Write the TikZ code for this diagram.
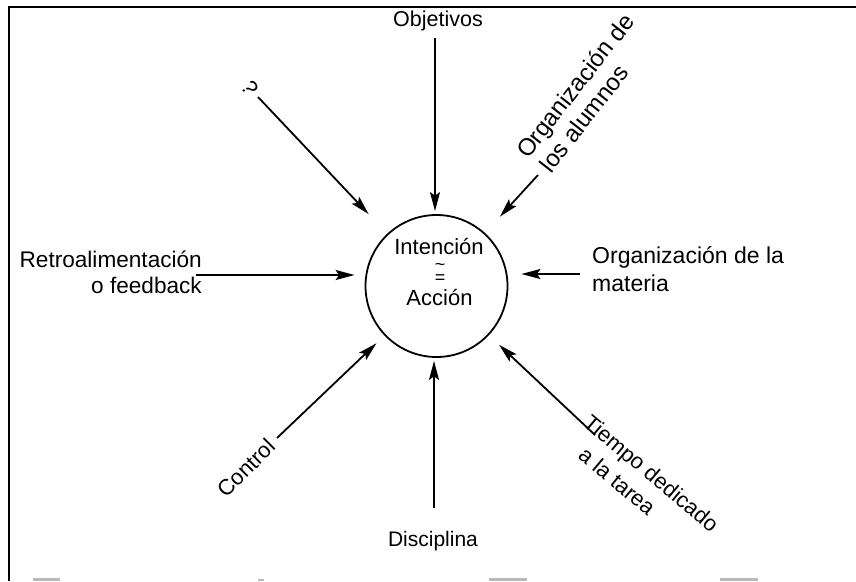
\documentclass[tikz,border=0pt]{standalone}
\usepackage{fontspec}
\setmainfont{Liberation Sans}
\usetikzlibrary{arrows.meta,calc}
\begin{document}
\begin{tikzpicture}[x=1pt,y=-1pt,
  lbl/.style={font=\fontsize{22}{26}\selectfont, inner sep=0pt},
  small/.style={font=\fontsize{18}{18}\selectfont, inner sep=0pt},
  inarrow/.style={line width=1.8pt, -{Stealth[length=19pt,width=10pt,inset=3.5pt]}},
  frameline/.style={line width=2pt},
  scanmark/.style={fill=gray!55, draw=none}]
\useasboundingbox (0,0) rectangle (856,581);

% open frame: left and top edges
\draw[frameline] (9,581) -- (9,7) -- (856,7);

% central circle with its text
\node[draw, circle, line width=1.8pt, minimum size=142pt, inner sep=0pt] (core) at (436.5,286) {};
\node[lbl, anchor=base] (c1) at (439,254) {Intención};
\node[small] (c2) at (440,267) {\textasciitilde};
\node[small] (c3) at (440,279) {=};
\node[lbl, anchor=base] (c4) at (439.5,305) {Acción};

% labels
\node[lbl, font=\fontsize{21.5}{26}\selectfont, anchor=base] (obj) at (438,26) {Objetivos};
\node[lbl, rotate=-60] (q) at (250,88) {?};
\begin{scope}[shift={(528,160)}, rotate=52]
  \node[lbl, font=\fontsize{24}{28}\selectfont, anchor=base west, rotate=52] (oa1) at (0,0) {Organización de};
  \node[lbl, font=\fontsize{24}{28}\selectfont, anchor=base west, rotate=52] (oa2) at (3,27) {los alumnos};
\end{scope}
\node[lbl, font=\fontsize{22.6}{26}\selectfont, anchor=base east] (fb1) at (202,267) {Retroalimentación};
\node[lbl, font=\fontsize{22.6}{26}\selectfont, anchor=base east] (fb2) at (202,293) {o feedback};
\node[lbl, font=\fontsize{23}{26}\selectfont, anchor=base west] (om1) at (592,263) {Organización de la};
\node[lbl, font=\fontsize{23}{26}\selectfont, anchor=base west] (om2) at (592,291) {materia};
\node[lbl, rotate=45] (ctl) at (246,468) {Control};
\node[lbl, font=\fontsize{21}{26}\selectfont, anchor=base] (dis) at (433,546) {Disciplina};
\begin{scope}[shift={(582,425)}, rotate=-40]
  \node[lbl, anchor=base west, rotate=-40] (tt1) at (0,0) {Tiempo dedicado};
  \node[lbl, anchor=base west, rotate=-40] (tt2) at (17,28) {a la tarea};
\end{scope}

% arrow start points
\coordinate (s-obj) at (435,38);
\coordinate (s-q) at (258,97);
\coordinate (s-oa) at (538,175);
\coordinate (s-fb) at (196,275);
\coordinate (s-om) at (580,274);
\coordinate (s-ctl) at (277,438);
\coordinate (s-dis) at (434,508);
\coordinate (s-tt) at (595,435);

% arrows into the circle
\draw[inarrow, shorten >=3pt]  (s-obj) -- (s-obj |- core.north);
\draw[inarrow, shorten >=27pt] (s-q) -- (core);
\draw[inarrow, shorten >=22pt] (s-oa) -- (core);
\draw[inarrow, shorten >=10pt] (s-fb) -- (s-fb -| core.west);
\draw[inarrow, shorten >=13pt] (s-om) -- (s-om -| core.east);
\draw[inarrow, shorten >=11pt] (s-ctl) -- (core);
\draw[inarrow, shorten >=3pt]  (s-dis) -- (s-dis |- core.south);
\draw[inarrow, shorten >=14pt] (s-tt) -- (core);

% faint marks along the lower edge
\fill[scanmark] (33,578) rectangle (60,581);
\fill[scanmark] (258,579) rectangle (264,581);
\fill[scanmark] (489,578) rectangle (527,581);
\fill[scanmark] (720,578) rectangle (758,581);
\end{tikzpicture}
\end{document}
